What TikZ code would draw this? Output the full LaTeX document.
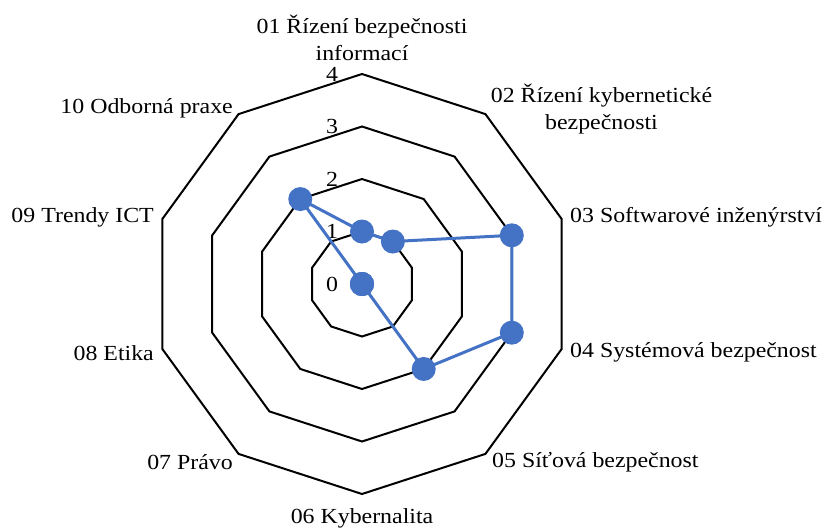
\documentclass[tikz,border=0pt]{standalone}
\usepackage{fontspec}
\setmainfont[FakeStretch=1.11]{Liberation Serif}
\begin{document}
\begin{tikzpicture}[x=1pt,y=1pt]
\useasboundingbox (-362,-244) rectangle (464,284);
\pgfmathsetmacro\unit{52.5};
\definecolor{seriecolor}{RGB}{68,114,196}
\tikzset{
  axislabel/.style = {font=\fontsize{21.5}{27}\selectfont, align=center, inner sep=0pt},
  ticklabel/.style = {font=\fontsize{21.5}{27}\selectfont, inner sep=0pt},
  gridline/.style = {draw=black, line width=2, line join=miter},
  serieline/.style = {draw=seriecolor, line width=3, line join=round},
  marker/.style = {circle, fill=seriecolor, minimum size=24, inner sep=0pt}
}
\foreach \k in {1,...,4} \draw[gridline] (90:\unit*\k) \foreach \a in {1,...,9} {-- (90-36*\a:\unit*\k)} -- cycle;
\foreach \k in {0,...,4} \node[ticklabel] (t\k) at (-30,\unit*\k) {\k};
\foreach \v [count=\i] in {1,1,3,3,2,0,0,0,0,2} \coordinate (p\i) at (90-36*\i+36:\unit*\v);
\draw[serieline] (p1) \foreach \i in {2,...,10} {-- (p\i)} -- cycle;
\foreach \i in {1,...,10} \node[marker] (m\i) at (p\i) {};
\node[axislabel] (l1) at (0,246.5) {01 Řízení bezpečnosti\\informací};
\node[axislabel] (l2) at (239.5,175) {02 Řízení kybernetické\\bezpečnosti};
\node[axislabel, anchor=west] (l3) at (208,67) {03 Softwarové inženýrství};
\node[axislabel, anchor=west] (l4) at (208,-68) {04 Systémová bezpečnost};
\node[axislabel, anchor=west] (l5) at (130,-178) {05 Síťová bezpečnost};
\node[axislabel] (l6) at (0,-234) {06 Kybernalita};
\node[axislabel, anchor=east] (l7) at (-129,-178) {07 Právo};
\node[axislabel, anchor=east] (l8) at (-208,-69) {08 Etika};
\node[axislabel, anchor=east] (l9) at (-208,67) {09 Trendy ICT};
\node[axislabel, anchor=east] (l10) at (-129,176) {10 Odborná praxe};
\end{tikzpicture}
\end{document}
